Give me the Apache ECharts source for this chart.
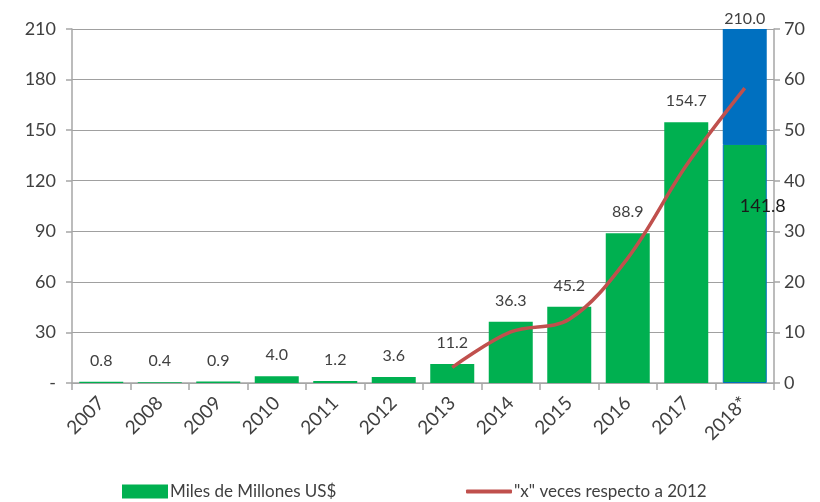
<!DOCTYPE html>
<html>
<head>
<meta charset="utf-8">
<style>
  html, body { margin: 0; padding: 0; background: #ffffff; }
  #chart { width: 820px; height: 502px; }
</style>
<script src="https://cdn.jsdelivr.net/npm/echarts@6/dist/echarts.min.js"></script>
</head>
<body>
<div id="chart"></div>
<script>
// Categories and values
const years = ['2007', '2008', '2009', '2010', '2011', '2012', '2013', '2014', '2015', '2016', '2017', '2018*'];
const milesMillones = [0.8, 0.4, 0.9, 4.0, 1.2, 3.6, 11.2, 36.3, 45.2, 88.9, 154.7, 141.8];
const extra2018 = [null, null, null, null, null, null, null, null, null, null, null, 68.2];
const total2018 = 210.0;
const vecesRespecto2012 = [null, null, null, null, null, null, 3.1, 10.1, 12.6, 24.7, 43.0, 58.3];
const leftTicks = { min: 0, max: 210, interval: 30 };
const rightTicks = { min: 0, max: 70, interval: 10 };

const FONT = 'Lato';
const GREEN = '#00B050';
const BLUE = '#0070C0';
const RED = '#C0504D';
const AXIS_GRAY = '#A6A6A6';
const TEXT = '#404040';

const greenData = milesMillones.map((v, i) => {
  if (i === milesMillones.length - 1) {
    return {
      value: v,
      itemStyle: { borderColor: BLUE, borderWidth: 1 },
      label: {
        position: 'insideTop',
        offset: [18, 40],
        color: '#1a1a1a',
        fontSize: 18
      }
    };
  }
  return v;
});

const chart = echarts.init(document.getElementById('chart'));
chart.setOption({
  animation: false,
  backgroundColor: '#ffffff',
  textStyle: { fontFamily: FONT },
  grid: { left: 72, right: 46, top: 29, bottom: 119, containLabel: false },
  legend: [
    {
      data: ['Miles de Millones US$'],
      left: 117, top: 478,
      icon: 'rect', itemWidth: 46, itemHeight: 14, itemGap: 4,
      textStyle: { fontFamily: FONT, fontSize: 17, color: TEXT, padding: [0, 0, 0, -3] }
    },
    {
      data: ['"x" veces respecto a 2012'],
      left: 461, top: 478,
      icon: 'roundRect', itemWidth: 46, itemHeight: 4,
      textStyle: { fontFamily: FONT, fontSize: 17, color: TEXT, padding: [0, 0, 0, -3] }
    }
  ],
  xAxis: {
    type: 'category',
    data: years,
    axisLine: { lineStyle: { color: AXIS_GRAY, width: 1.5 } },
    axisTick: { show: true, alignWithLabel: false, length: 7, lineStyle: { color: AXIS_GRAY, width: 1.5 } },
    axisLabel: { rotate: 45, fontFamily: FONT, fontSize: 19, color: TEXT, margin: 17, interval: 0 }
  },
  yAxis: [
    {
      type: 'value',
      min: leftTicks.min, max: leftTicks.max, interval: leftTicks.interval,
      axisLine: { show: true, lineStyle: { color: AXIS_GRAY, width: 1.5 } },
      axisTick: { show: true, length: 6, lineStyle: { color: AXIS_GRAY, width: 1.5 } },
      splitLine: { show: true, lineStyle: { color: '#A0A0A0', width: 1.2 } },
      axisLabel: {
        fontFamily: FONT, fontSize: 18, color: TEXT, margin: 16,
        formatter: v => (v === 0 ? '-' : String(v))
      }
    },
    {
      type: 'value',
      min: rightTicks.min, max: rightTicks.max, interval: rightTicks.interval,
      position: 'right',
      axisLine: { show: true, lineStyle: { color: AXIS_GRAY, width: 1.5 } },
      axisTick: { show: true, length: 6, lineStyle: { color: AXIS_GRAY, width: 1.5 } },
      splitLine: { show: false },
      axisLabel: { fontFamily: FONT, fontSize: 18, color: TEXT, margin: 10 }
    }
  ],
  series: [
    {
      name: 'Miles de Millones US$',
      type: 'bar',
      stack: 'total',
      barWidth: 44,
      data: greenData,
      itemStyle: { color: GREEN },
      label: {
        show: true,
        position: 'top',
        distance: 13,
        fontFamily: FONT,
        fontSize: 16,
        color: TEXT,
        formatter: p => Number(p.value).toFixed(1)
      },
      z: 2
    },
    {
      name: 'Adicional 2018',
      type: 'bar',
      stack: 'total',
      barWidth: 44,
      data: extra2018,
      itemStyle: { color: BLUE },
      label: {
        show: true,
        position: 'top',
        distance: 2,
        fontFamily: FONT,
        fontSize: 16,
        color: TEXT,
        formatter: () => total2018.toFixed(1)
      },
      z: 2
    },
    {
      name: '"x" veces respecto a 2012',
      type: 'line',
      yAxisIndex: 1,
      data: vecesRespecto2012,
      smooth: 0.35,
      symbol: 'none',
      connectNulls: false,
      itemStyle: { color: RED },
      lineStyle: { color: RED, width: 3.5 },
      z: 3
    }
  ]
});
</script>
</body>
</html>
